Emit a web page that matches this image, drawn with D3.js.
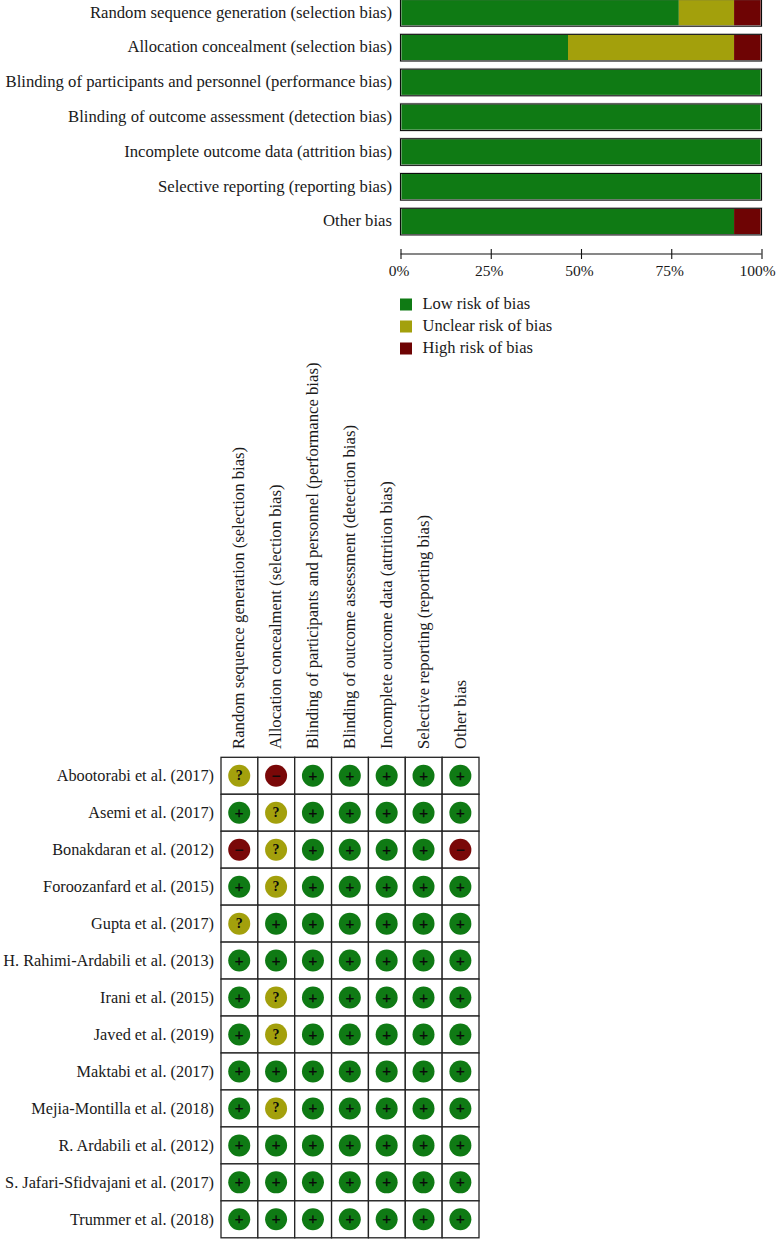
<!DOCTYPE html>
<html><head><meta charset="utf-8">
<script src="https://cdn.jsdelivr.net/npm/d3@7"></script>
<style>html,body{margin:0;padding:0;background:#fff}svg{display:block}text{font-family:"Liberation Serif",serif;fill:#1a1a1a}</style>
</head><body><svg id="c" width="776" height="1239"></svg>
<script>
const domains = ["Random sequence generation (selection bias)","Allocation concealment (selection bias)","Blinding of participants and personnel (performance bias)","Blinding of outcome assessment (detection bias)","Incomplete outcome data (attrition bias)","Selective reporting (reporting bias)","Other bias"];
const lowRisk = [77.1,46.4,100,100,100,100,92.4];
const unclearRisk = [15.3,46.0,0,0,0,0,0];
const highRisk = [7.6,7.6,0,0,0,0,7.6];
const legendLabels = ["Low risk of bias","Unclear risk of bias","High risk of bias"];
const xTicks = [0,25,50,75,100];
const studies = ["Abootorabi et al. (2017)","Asemi et al. (2017)","Bonakdaran et al. (2012)","Foroozanfard et al. (2015)","Gupta et al. (2017)","H. Rahimi-Ardabili et al. (2013)","Irani et al. (2015)","Javed et al. (2019)","Maktabi et al. (2017)","Mejia-Montilla et al. (2018)","R. Ardabili et al. (2012)","S. Jafari-Sfidvajani et al. (2017)","Trummer et al. (2018)"];
const judgements = ["?-+++++","+?+++++","-?++++-","+?+++++","?++++++","+++++++","+?+++++","+?+++++","+++++++","+?+++++","+++++++","+++++++","+++++++"];
const colors = ["#0f7a14","#a3a00c","#6e0404"];
const dotColor = {"+":"#0f7a14","?":"#a3a00c","-":"#7a0808"};
const glyph = {"+":"+","?":"?","-":"\u2212"};

const svg = d3.select("#c");
const x = d3.scaleLinear().domain([0,100]).range([400.5,761.5]);
const y = d3.scaleBand().domain(domains).range([-4.5,239]).paddingInner(0.235).paddingOuter(0.1175);
const series = [lowRisk,unclearRisk,highRisk];
const stacked = d3.stack().keys([0,1,2]).value((d,k)=>series[k][d])(domains.map((_,i)=>i));

const barG = svg.append("g");
stacked.forEach((s,k)=>{
  barG.selectAll(null).data(s).join("rect")
    .attr("x",d=>x(d[0])).attr("width",d=>x(d[1])-x(d[0]))
    .attr("y",(d,i)=>y(domains[i])).attr("height",y.bandwidth())
    .attr("fill",colors[k]);
});
barG.selectAll(".o").data(domains).join("rect").attr("class","o")
  .attr("x",x(0)).attr("width",x(100)-x(0)).attr("y",d=>y(d)-0.4).attr("height",y.bandwidth()+0.4)
  .attr("fill","none").attr("stroke","#d4d4d4").attr("stroke-width",1.8);
barG.selectAll(".b").data(domains).join("rect").attr("class","b")
  .attr("x",x(0)).attr("width",x(100)-x(0)).attr("y",d=>y(d)).attr("height",y.bandwidth())
  .attr("fill","none").attr("stroke","#0a0a0a").attr("stroke-width",1);

svg.append("g").selectAll("text").data(domains).join("text")
  .attr("x",392).attr("y",d=>y(d)+y.bandwidth()/2+4.8)
  .attr("text-anchor","end").attr("font-size",16.7).text(d=>d);

const ax = svg.append("g").attr("transform","translate(0,254)")
  .call(d3.axisBottom(x).tickValues(xTicks).tickFormat(d=>d+"%").tickSize(5).tickPadding(8));
ax.select(".domain").attr("d",`M${x(0)},0H${x(100)}`).attr("stroke","#111").attr("stroke-width",1.1);
ax.selectAll(".tick line").attr("y1",-5).attr("y2",5).attr("stroke","#111").attr("stroke-width",1.1);
ax.selectAll(".tick text").attr("font-family","Liberation Serif").attr("font-size",15.5).attr("fill","#1a1a1a").attr("dx",d=>d===100?-4.5:-2).attr("y",11);

const lg = d3.scaleBand().domain(legendLabels).range([293.5,359.5]);
const lgG = svg.append("g").selectAll("g").data(legendLabels).join("g")
  .attr("transform",d=>`translate(400,${lg(d)})`);
lgG.append("rect").attr("width",12).attr("height",12).attr("y",(lg.bandwidth()-12)/2).attr("fill",(d,i)=>colors[i]);
lgG.append("text").attr("x",22.5).attr("y",lg.bandwidth()/2+4.5).attr("font-size",16.5).text(d=>d);

const cx = d3.scaleBand().domain(domains).range([221,479]);
const cy = d3.scaleBand().domain(studies).range([757.3,1237.8]);
const grid = svg.append("g");
grid.selectAll(".s").data(studies).join("g").attr("class","s").each(function(st,r){
  const g = d3.select(this);
  domains.forEach((dm,c)=>{
    const j = judgements[r][c];
    const px = cx(dm), py = cy(st);
    g.append("rect").attr("x",px).attr("y",py).attr("width",cx.bandwidth()).attr("height",cy.bandwidth())
      .attr("fill","#fff").attr("stroke","#222").attr("stroke-width",1.3);
    g.append("circle").attr("cx",px+cx.bandwidth()/2-0.2).attr("cy",py+cy.bandwidth()/2)
      .attr("r",11).attr("fill",dotColor[j]);
    g.append("text").attr("x",px+cx.bandwidth()/2-0.2).attr("y",py+cy.bandwidth()/2+(j==="?"?4:5))
      .attr("text-anchor","middle").attr("font-size",j==="?"?14:15)
      .attr("font-weight",j==="?"?"bold":"normal")
      .style("fill","#0a0a0a").style("stroke",j==="?"?"none":"#0a0a0a").style("stroke-width",0.3)
      .style("font-family",j==="?"?"'Liberation Serif',serif":"'Liberation Sans',sans-serif").text(glyph[j]);
  });
});
svg.append("g").selectAll("text").data(studies).join("text")
  .attr("x",214).attr("y",d=>cy(d)+cy.bandwidth()/2+5.3)
  .attr("text-anchor","end").attr("font-size",16.3).text(d=>d);
svg.append("g").selectAll("text").data(domains).join("text")
  .attr("transform",d=>`translate(${cx(d)+cx.bandwidth()/2+5},749) rotate(-90)`)
  .attr("font-size",16.7).text(d=>d);
</script></body></html>
